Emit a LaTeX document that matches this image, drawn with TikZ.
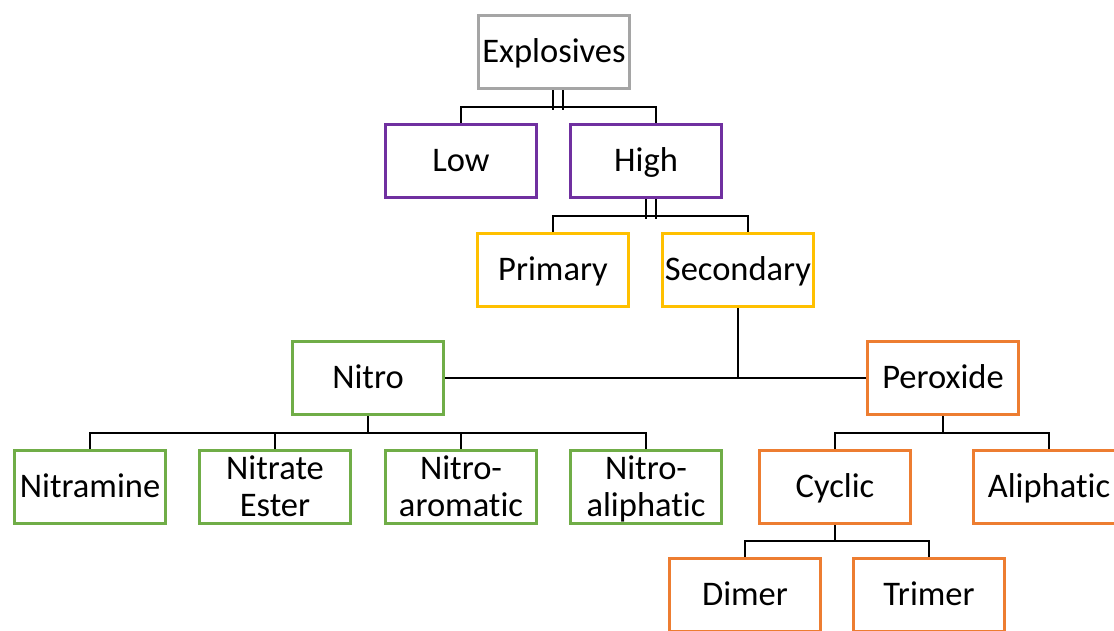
\documentclass[tikz,border=0pt]{standalone}
\usepackage{fontspec}
\setmainfont{Carlito}[Ligatures=NoCommon]
\usepackage{tikz}
\usetikzlibrary{calc}

\definecolor{expgray}{HTML}{A5A5A5}
\definecolor{exppurple}{HTML}{7030A0}
\definecolor{expgold}{HTML}{FFC000}
\definecolor{expgreen}{HTML}{70AD47}
\definecolor{exporange}{HTML}{ED7D31}

\begin{document}
\begin{tikzpicture}[x=1pt,y=-1pt,
  every node/.style={draw, line width=3pt, fill=white, minimum width=151pt, minimum height=73pt,
    align=center, inner sep=0pt, text height=26pt, text depth=5pt,
    font=\fontsize{34.5}{37}\selectfont},
  twolines/.style={text height=63pt},
  link/.style={draw=black, line width=2.5pt}]
\useasboundingbox (0,0) rectangle (1114,630);
\clip (0,0) rectangle (1114,630);

% levels 1 and 2
\node[draw=expgray] (expl) at (554,52) {Explosives};
\node[draw=exppurple] (low) at (461,161) {Low};
\node[draw=exppurple] (high) at (646,161) {High};
\node[draw=expgold] (prim) at (553,270) {Primary};
\node[draw=expgold] (sec) at (738,270) {Secondary};

% level 3
\node[draw=expgreen] (nitro) at (368,378) {Nitro};
\node[draw=exporange] (perox) at (943,378) {Peroxide};

% level 4
\node[draw=expgreen] (nam) at (90,487) {Nitramine};
\node[draw=expgreen, twolines] (nest) at (275,487) {Nitrate\\Ester};
\node[draw=expgreen, twolines] (narom) at (461,487) {Nitro-\\aromatic};
\node[draw=expgreen, twolines] (naliph) at (646,487) {Nitro-\\aliphatic};
\node[draw=exporange] (cyc) at (835,487) {Cyclic};
\node[draw=exporange] (aliph) at (1049,487) {Aliphatic};

% level 5
\node[draw=exporange] (dim) at (745,595) {Dimer};
\node[draw=exporange] (trim) at (929,595) {Trimer};

% connectors
\draw[link] ([xshift=-1pt]expl.south) -- ++(0,20);
\draw[link] ([xshift=9pt]expl.south) -- ++(0,20);
\draw[link] (low.north) -- ++(0,-16) -| ([xshift=10pt]high.north);

\draw[link] (high.south) -- ++(0,20);
\draw[link] ([xshift=10pt]high.south) -- ++(0,20);
\draw[link] (prim.north) -- ++(0,-16) -| ([xshift=10pt]sec.north);

\draw[link] (nitro.east) -- (perox.west);
\draw[link] (sec.south) -- (sec.south |- nitro.east);

\draw[link] (nitro.south) -- ++(0,17);
\draw[link] (nam.north) -- ++(0,-16) -| (naliph.north);
\draw[link] (nest.north) -- ++(0,-16);
\draw[link] (narom.north) -- ++(0,-16);

\draw[link] (perox.south) -- ++(0,17);
\draw[link] (cyc.north) -- ++(0,-16) -| (aliph.north);

\draw[link] (cyc.south) -- ++(0,17);
\draw[link] (dim.north) -- ++(0,-16) -| (trim.north);
\end{tikzpicture}
\end{document}
